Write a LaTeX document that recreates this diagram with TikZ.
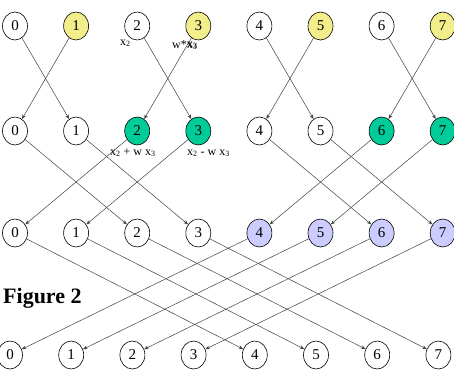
\documentclass[tikz,border=0pt]{standalone}
\usepackage{fontspec}
\setmainfont{Liberation Serif}
\usetikzlibrary{shapes.geometric,arrows.meta}
\definecolor{ylw}{RGB}{242,238,140}
\definecolor{grn}{RGB}{0,204,153}
\definecolor{lav}{RGB}{204,204,255}
\begin{document}
\begin{tikzpicture}[x=1pt,y=-1pt,
  nd/.style={ellipse,draw=black,line width=0.6pt,minimum width=25pt,minimum height=28pt,inner sep=0pt,font=\fontsize{15}{15}\selectfont},
  con/.style={draw=black!75,line width=0.5pt,-{Stealth[length=4.5pt,width=3.5pt]}},
  lbl/.style={font=\fontsize{12}{12}\selectfont,inner sep=0pt,anchor=base west}]
\useasboundingbox (0,0) rectangle (454,372);
% row 1
\foreach \i in {0,...,7}{
  \pgfmathsetmacro{\xx}{15+61.1*\i}
  \pgfmathtruncatemacro{\odd}{mod(\i,2)}
  \ifnum\odd=1 \def\fc{ylw}\else\def\fc{white}\fi
  \node[nd,fill=\fc] (a\i) at (\xx,26) {\i};
}
% row 2
\foreach \i/\fc in {0/white,1/white,2/grn,3/grn,4/white,5/white,6/grn,7/grn}{
  \pgfmathsetmacro{\xx}{15+61.1*\i}
  \node[nd,fill=\fc] (b\i) at (\xx,131) {\i};
}
% row 3
\foreach \i/\fc in {0/white,1/white,2/white,3/white,4/lav,5/lav,6/lav,7/lav}{
  \pgfmathsetmacro{\xx}{15+61.1*\i}
  \node[nd,fill=\fc] (c\i) at (\xx,233) {\i};
}
% row 4
\foreach \i in {0,...,7}{
  \pgfmathsetmacro{\xx}{10+61.2*\i}
  \node[nd,fill=white] (d\i) at (\xx,355) {\i};
}
% connectors
\foreach \i in {0,2,4,6}{
  \pgfmathtruncatemacro{\j}{\i+1}
  \draw[con] (a\i) -- (b\j);
  \draw[con] (a\j) -- (b\i);
}
\foreach \i in {0,1,4,5}{
  \pgfmathtruncatemacro{\j}{\i+2}
  \draw[con] (b\i) -- (c\j);
  \draw[con] (b\j) -- (c\i);
}
\foreach \i in {0,1,2,3}{
  \pgfmathtruncatemacro{\j}{\i+4}
  \draw[con] (c\i) -- (d\j);
  \draw[con] (c\j) -- (d\i);
}
% labels
\node[lbl] (l1) at (120,45) {x\textsubscript{2}};
\node[lbl] (l2) at (172,48) {w*x\textsubscript{3}};
\node[lbl] (l3) at (187,47) {x\textsubscript{3}};
\node[lbl] (l4) at (110,155) {x\textsubscript{2} + w x\textsubscript{3}};
\node[lbl] (l5) at (187,155) {x\textsubscript{2} - w x\textsubscript{3}};
\node[inner sep=0pt,anchor=base west,font=\fontsize{22}{22}\selectfont\bfseries] (fig) at (3,303) {Figure 2};
\end{tikzpicture}
\end{document}
